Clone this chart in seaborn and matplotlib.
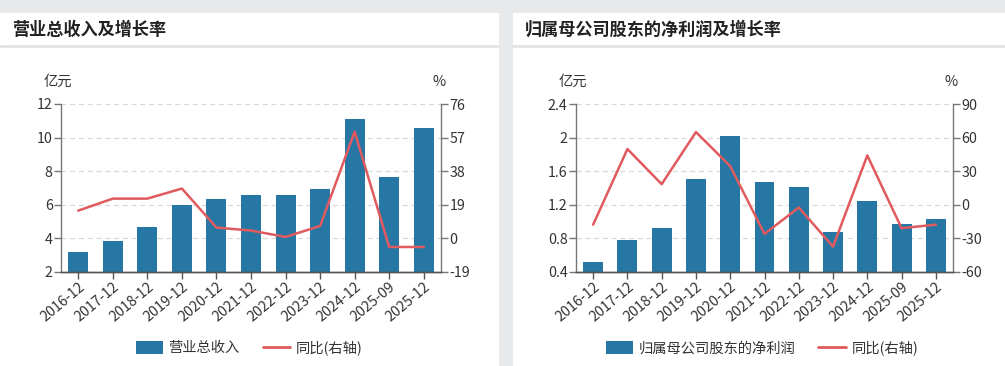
import matplotlib
matplotlib.use("Agg")
import matplotlib.pyplot as plt
import seaborn as sns
import pandas as pd
from matplotlib.patches import Rectangle, FancyBboxPatch
from matplotlib.lines import Line2D

sns.set_theme(style="white")
plt.rcParams['font.family'] = ['Noto Sans CJK SC', 'DejaVu Sans']
plt.rcParams['axes.unicode_minus'] = False

categories = ["2016-12", "2017-12", "2018-12", "2019-12", "2020-12", "2021-12",
              "2022-12", "2023-12", "2024-12", "2025-09", "2025-12"]
revenue = [3.15, 3.85, 4.68, 5.97, 6.31, 6.55, 6.55, 6.96, 11.1, 7.62, 10.54]
revenue_yoy = [15.6, 22.4, 22.4, 28.1, 6.0, 4.3, 0.7, 6.9, 60.3, -5.0, -5.0]
profit = [0.52, 0.78, 0.92, 1.50, 2.02, 1.47, 1.41, 0.87, 1.24, 0.97, 1.03]
profit_yoy = [-17.9, 49.7, 18.3, 64.9, 34.4, -26.2, -2.6, -37.6, 44.0, -21.1, -17.9]

titles = ["营业总收入及增长率", "归属母公司股东的净利润及增长率"]
bar_names = ["营业总收入", "归属母公司股东的净利润"]
line_name = "同比(右轴)"
left_ticks = [[2, 4, 6, 8, 10, 12], [0.4, 0.8, 1.2, 1.6, 2.0, 2.4]]
left_labels = [["2", "4", "6", "8", "10", "12"], ["0.4", "0.8", "1.2", "1.6", "2", "2.4"]]
right_ticks = [[-19, 0, 19, 38, 57, 76], [-60, -30, 0, 30, 60, 90]]

BAR = "#2777a5"
LINE = "#e05a5e"
BG = "#e8e9eb"
W, H = 1005, 366
FS = 10.3

fig = plt.figure(figsize=(W / 100, H / 100), dpi=100)
fig.patch.set_facecolor(BG)

def fx(px):
    return px / W

def fy(py):
    return 1 - py / H

panels = [(0, 499), (513, 1005)]
axes_px = [(61, 441), (576, 953)]
legend_cx = [249, 762]
top_px, bot_px = 104, 271.7

for i in range(2):
    px0, px1 = panels[i]
    fig.patches.append(Rectangle((fx(px0), 0), fx(px1 - px0), fy(13), transform=fig.transFigure,
                                 facecolor="white", edgecolor="none", zorder=-10))
    fig.lines.append(Line2D([fx(px0), fx(px1)], [fy(45.5), fy(45.5)], transform=fig.transFigure,
                            color="#e3e4e6", lw=2, zorder=-5))
    fig.text(fx(px0 + 12), fy(29.5), titles[i], fontsize=12.3,
             fontweight="bold", color="#222222", va="center", ha="left")

    ax0, ax1 = axes_px[i]
    ax = fig.add_axes([fx(ax0), fy(bot_px), fx(ax1 - ax0), (bot_px - top_px) / H])
    ax.set_facecolor("none")
    vals = revenue if i == 0 else profit
    yoy = revenue_yoy if i == 0 else profit_yoy
    df = pd.DataFrame({"cat": categories, "val": vals, "yoy": yoy})
    sns.barplot(data=df, x="cat", y="val", ax=ax, color=BAR, width=0.58,
                saturation=1, edgecolor="none", zorder=2)
    ax.set_ylim(left_ticks[i][0], left_ticks[i][-1])
    ax.set_yticks(left_ticks[i])
    ax.set_yticklabels(left_labels[i])
    ax.set_xlim(-0.5, len(categories) - 0.5)
    ax.set_xlabel("")
    ax.set_ylabel("")
    for t in left_ticks[i][1:]:
        ax.axhline(t, color="#d8d8d8", lw=0.9, ls=(0, (4, 3)), zorder=1)

    ax2 = ax.twinx()
    sns.lineplot(data=df, x="cat", y="yoy", ax=ax2, color=LINE, lw=1.8, zorder=3)
    ax2.set_ylim(right_ticks[i][0], right_ticks[i][-1])
    ax2.set_yticks(right_ticks[i])
    ax2.set_ylabel("")
    ax2.set_xlim(-0.5, len(categories) - 0.5)

    for a in (ax, ax2):
        a.spines["top"].set_visible(False)
        a.spines["left"].set_color("#777777")
        a.spines["right"].set_color("#777777")
        a.spines["bottom"].set_color("#555555")
        for s in ("left", "right", "bottom"):
            a.spines[s].set_linewidth(1.0)
    ax.spines["right"].set_visible(False)
    ax2.spines["left"].set_visible(False)
    ax.tick_params(axis="y", length=5, width=1, color="#777777", labelsize=FS,
                   labelcolor="#333333", pad=1, left=True)
    ax2.tick_params(axis="y", length=5, width=1, color="#777777", labelsize=FS,
                    labelcolor="#333333", pad=1, right=True)
    ax.tick_params(axis="x", length=5, width=1, color="#555555", labelsize=FS,
                   labelcolor="#333333", pad=1, bottom=True)
    for lab in ax.get_xticklabels():
        lab.set_rotation(40)
        lab.set_ha("right")
        lab.set_rotation_mode("anchor")

    fig.text(fx(ax0 - 3), fy(82), "亿元", fontsize=FS, color="#333333", ha="center", va="center")
    fig.text(fx(ax1 - 2), fy(82), "%", fontsize=FS, color="#333333", ha="center", va="center")

    handles = [FancyBboxPatch((0, 0), 1, 1, boxstyle="round,pad=0.05", facecolor=BAR, edgecolor="none"),
               Line2D([0], [0], color=LINE, lw=2)]
    fig.legend(handles, [bar_names[i], line_name], loc="center", bbox_to_anchor=(fx(legend_cx[i]), fy(348)),
               ncol=2, frameon=False, fontsize=FS, handlelength=1.9, handleheight=1.0,
               columnspacing=1.6, handletextpad=0.4, labelcolor="#333333")

fig.savefig("out.png", dpi=100, facecolor=fig.get_facecolor())
